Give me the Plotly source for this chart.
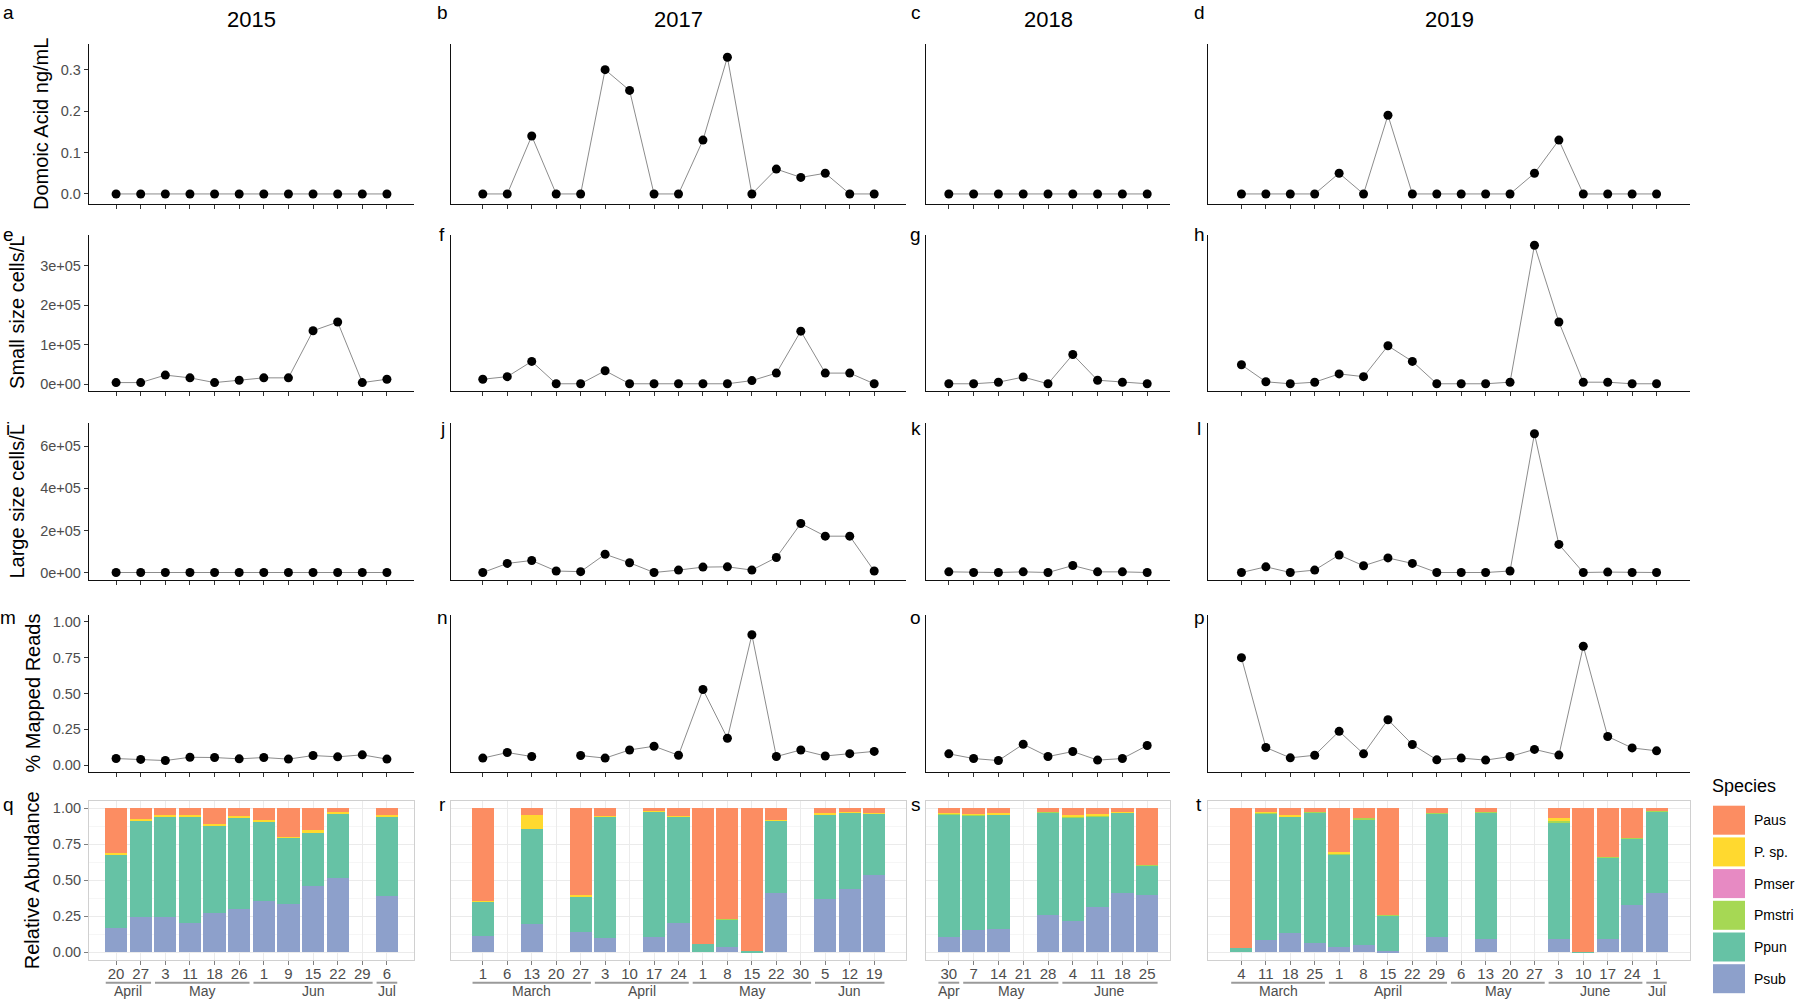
import plotly.graph_objects as go

# ---------------- sampling dates (x categories) ----------------
dates_2015 = ["2015-04-20", "2015-04-27", "2015-05-03", "2015-05-11", "2015-05-18", "2015-05-26",
              "2015-06-01", "2015-06-09", "2015-06-15", "2015-06-22", "2015-06-29", "2015-07-06"]
dates_2017 = ["2017-03-01", "2017-03-06", "2017-03-13", "2017-03-20", "2017-03-27",
              "2017-04-03", "2017-04-10", "2017-04-17", "2017-04-24",
              "2017-05-01", "2017-05-08", "2017-05-15", "2017-05-22", "2017-05-30",
              "2017-06-05", "2017-06-12", "2017-06-19"]
dates_2018 = ["2018-04-30", "2018-05-07", "2018-05-14", "2018-05-21", "2018-05-28",
              "2018-06-04", "2018-06-11", "2018-06-18", "2018-06-25"]
dates_2019 = ["2019-03-04", "2019-03-11", "2019-03-18", "2019-03-25",
              "2019-04-01", "2019-04-08", "2019-04-15", "2019-04-22", "2019-04-29",
              "2019-05-06", "2019-05-13", "2019-05-20", "2019-05-27",
              "2019-06-03", "2019-06-10", "2019-06-17", "2019-06-24", "2019-07-01"]

# month group labels, one per month present
months_2015 = ["April", "May", "Jun", "Jul"]
months_2017 = ["March", "April", "May", "Jun"]
months_2018 = ["Apr", "May", "June"]
months_2019 = ["March", "April", "May", "June", "Jul"]

# ---------------- Domoic acid (ng/mL) ----------------
da_2015 = [0, 0, 0, 0, 0, 0, 0, 0, 0, 0, 0, 0]
da_2017 = [0, 0, 0.14, 0, 0, 0.30, 0.25, 0, 0, 0.13, 0.33, 0, 0.06, 0.04, 0.05, 0, 0]
da_2018 = [0, 0, 0, 0, 0, 0, 0, 0, 0]
da_2019 = [0, 0, 0, 0, 0.05, 0, 0.19, 0, 0, 0, 0, 0, 0.05, 0.13, 0, 0, 0, 0]

# ---------------- Small size cells/L ----------------
small_2015 = [4000, 4000, 23000, 16000, 4000, 10000, 16000, 16000, 135000, 157000, 4000, 12500]
small_2017 = [12500, 19000, 57500, 1000, 1000, 34000, 1000, 1000, 1000, 1000, 1000, 9000,
              28000, 134000, 28000, 28000, 1000]
small_2018 = [1000, 1000, 5000, 18000, 1000, 75000, 10000, 5000, 1000]
small_2019 = [49000, 6000, 1000, 5000, 26000, 19000, 97000, 57500, 1000, 1000, 1000, 5000,
              351000, 157000, 5000, 5000, 1000, 1000]

# ---------------- Large size cells/L ----------------
large_2015 = [1000, 1000, 1000, 1000, 1000, 1000, 1000, 1000, 1000, 1000, 1000, 1000]
large_2017 = [1000, 44000, 58000, 8000, 5000, 87500, 47000, 1000, 12500, 26500, 28000, 12500,
              72000, 233000, 173000, 173000, 8000]
large_2018 = [4000, 1000, 1000, 4000, 1000, 34000, 4000, 4000, 1000]
large_2019 = [1000, 28000, 1000, 12500, 84000, 33000, 70000, 44000, 1000, 1000, 1000, 8000,
              658000, 134000, 1000, 3000, 1000, 1000]

# ---------------- % Mapped reads ----------------
mapped_2015 = [0.046, 0.040, 0.032, 0.055, 0.053, 0.044, 0.053, 0.042, 0.067, 0.058, 0.072, 0.042]
mapped_2017 = [0.049, 0.088, 0.060, None, 0.067, 0.049, 0.106, 0.132, 0.069, 0.528, 0.188, 0.91,
               0.060, 0.106, 0.064, 0.080, 0.096]
mapped_2018 = [0.079, 0.046, 0.032, 0.146, 0.060, 0.095, 0.035, 0.046, 0.137]
mapped_2019 = [0.75, 0.123, 0.051, 0.069, 0.236, 0.079, 0.317, 0.144, 0.037, 0.049, 0.035, 0.060,
               0.11, 0.07, 0.83, 0.20, 0.12, 0.10]

# ---------------- Relative abundance per species ----------------
paus_2015 = [0.31, 0.074, 0.046, 0.046, 0.11, 0.055, 0.08, 0.20, 0.15, 0.023, None, 0.05]
psp_2015 = [0.01, 0.01, 0.01, 0.01, 0.016, 0.01, 0.01, 0.005, 0.02, 0.014, None, 0.005]
pmser_2015 = [0, 0, 0, 0, 0, 0, 0, 0, 0, 0, None, 0]
pmstri_2015 = [0, 0, 0, 0, 0, 0, 0, 0, 0, 0, None, 0]
ppun_2015 = [0.51, 0.67, 0.70, 0.74, 0.60, 0.635, 0.555, 0.46, 0.37, 0.45, None, 0.553]
psub_2015 = [0.17, 0.246, 0.244, 0.204, 0.274, 0.30, 0.355, 0.335, 0.46, 0.513, None, 0.392]

paus_2017 = [0.643, None, 0.044, None, 0.60, 0.053, None, 0.02, 0.055, 0.944, 0.77, 0.99, 0.08,
             None, 0.032, 0.023, 0.03]
psp_2017 = [0.005, None, 0.10, None, 0.01, 0.005, None, 0.005, 0.005, 0, 0, 0, 0.005,
            None, 0.01, 0.005, 0.005]
pmser_2017 = [0, None, 0, None, 0, 0, None, 0, 0, 0, 0, 0, 0, None, 0, 0, 0]
pmstri_2017 = [0, None, 0, None, 0, 0, None, 0, 0, 0, 0.005, 0, 0, None, 0, 0, 0]
ppun_2017 = [0.24, None, 0.657, None, 0.248, 0.845, None, 0.866, 0.736, 0.056, 0.19, 0.01, 0.50,
             None, 0.59, 0.532, 0.43]
psub_2017 = [0.112, None, 0.199, None, 0.142, 0.097, None, 0.109, 0.204, 0, 0.035, 0, 0.415,
             None, 0.368, 0.44, 0.535]

paus_2018 = [0.032, 0.04, 0.032, None, 0.023, 0.05, 0.04, 0.023, 0.394]
psp_2018 = [0.005, 0.005, 0.01, None, 0, 0.01, 0.01, 0.005, 0]
pmser_2018 = [0, 0, 0, None, 0, 0, 0, 0, 0]
pmstri_2018 = [0.005, 0.005, 0.005, None, 0.01, 0.005, 0.005, 0.005, 0.005]
ppun_2018 = [0.852, 0.797, 0.791, None, 0.71, 0.72, 0.628, 0.557, 0.203]
psub_2018 = [0.106, 0.153, 0.162, None, 0.257, 0.215, 0.317, 0.41, 0.398]

paus_2019 = [0.972, 0.028, 0.044, 0.028, 0.306, 0.07, 0.74, None, 0.032, None, 0.028, None, None,
             0.07, 0.995, 0.336, 0.204, 0.016]
psp_2019 = [0, 0.005, 0.012, 0, 0.009, 0, 0, None, 0, None, 0, None, None,
            0.018, 0, 0, 0, 0]
pmser_2019 = [0, 0, 0, 0, 0, 0, 0, None, 0, None, 0, None, None, 0, 0, 0, 0, 0]
pmstri_2019 = [0, 0.005, 0, 0.005, 0.009, 0.005, 0.005, None, 0.005, None, 0.005, None, None,
               0.014, 0, 0.005, 0.005, 0.005]
ppun_2019 = [0.028, 0.876, 0.812, 0.904, 0.639, 0.874, 0.245, None, 0.857, None, 0.874, None, None,
             0.805, 0.005, 0.566, 0.462, 0.569]
psub_2019 = [0, 0.086, 0.132, 0.063, 0.037, 0.051, 0.01, None, 0.106, None, 0.093, None, None,
             0.093, 0, 0.093, 0.329, 0.41]

# y axis ticks per row
ticks_da = [0, 0.1, 0.2, 0.3]
labels_da = ["0.0", "0.1", "0.2", "0.3"]
ticks_small = [0, 100000, 200000, 300000]
labels_small = ["0e+00", "1e+05", "2e+05", "3e+05"]
ticks_large = [0, 200000, 400000, 600000]
labels_large = ["0e+00", "2e+05", "4e+05", "6e+05"]
ticks_frac = [0, 0.25, 0.5, 0.75, 1.0]
labels_frac = ["0.00", "0.25", "0.50", "0.75", "1.00"]

years = ["2015", "2017", "2018", "2019"]
species_names = ["Paus", "P. sp.", "Pmser", "Pmstri", "Ppun", "Psub"]   # legend order
species_colors = ["#FC8D62", "#FFD92F", "#E78AC3", "#A6D854", "#66C2A5", "#8DA0CB"]

# ---------------- assemble ----------------
all_dates = [dates_2015, dates_2017, dates_2018, dates_2019]
all_months = [months_2015, months_2017, months_2018, months_2019]
row_series = [
    [da_2015, da_2017, da_2018, da_2019],
    [small_2015, small_2017, small_2018, small_2019],
    [large_2015, large_2017, large_2018, large_2019],
    [mapped_2015, mapped_2017, mapped_2018, mapped_2019],
]
abundance = [
    [paus_2015, psp_2015, pmser_2015, pmstri_2015, ppun_2015, psub_2015],
    [paus_2017, psp_2017, pmser_2017, pmstri_2017, ppun_2017, psub_2017],
    [paus_2018, psp_2018, pmser_2018, pmstri_2018, ppun_2018, psub_2018],
    [paus_2019, psp_2019, pmser_2019, pmstri_2019, ppun_2019, psub_2019],
]
row_ticks = [(ticks_da, labels_da), (ticks_small, labels_small), (ticks_large, labels_large),
             (ticks_frac, labels_frac), (ticks_frac, labels_frac)]
row_ranges = [[-0.025, 0.363], [-18000, 378000], [-34000, 708000], [-0.05, 1.05], [-0.05, 1.05]]
row_titles = ["Domoic Acid ng/mL", "Small size cells/L", "Large size cells/L",
              "% Mapped Reads", "Relative Abundance"]

# ---------------- layout geometry (pixels) ----------------
FIG_W, FIG_H = 1800, 1003
col_px = [(89, 414), (451, 906), (926, 1170), (1208, 1690)]
row_px = [(43.6, 204.3), (234.6, 391.3), (423.2, 579.9), (614.7, 772.3), (801.0, 959.5)]
col_pad = [1.1, 1.3, 0.92, 1.37]
title_x_px = [41, 17, 17, 32, 32]
letter_x_px = [8, 442, 916, 1199]
letter_y_px = [12, 235, 428, 617, 804]

FONT = "Liberation Sans, Arial, sans-serif"
TICK_GREY = "#4D4D4D"


def fx(p):
    return p / FIG_W


def fy(p):
    return 1 - p / FIG_H


fig = go.Figure()
layout = {}
annotations = []
shapes = []

for r in range(5):
    for c in range(4):
        k = r * 4 + c + 1
        sfx = "" if k == 1 else str(k)
        xref, yref = "x" + sfx, "y" + sfx
        dates = all_dates[c]
        n = len(dates)
        days = [str(int(d[8:])) for d in dates]
        bottom = r == 4

        xa = dict(
            domain=[fx(col_px[c][0]), fx(col_px[c][1])], anchor=yref,
            type="category", categoryorder="array", categoryarray=dates,
            range=[-col_pad[c], n - 1 + col_pad[c]],
            tickmode="array", tickvals=dates, ticktext=days,
            showticklabels=bottom, ticks="outside", ticklen=4, tickwidth=1,
            tickfont=dict(size=15, color=TICK_GREY, family=FONT),
            zeroline=False, fixedrange=True,
        )
        ticks, labels = row_ticks[r]
        ya = dict(
            domain=[fy(row_px[r][1]), fy(row_px[r][0])], anchor=xref,
            range=row_ranges[r], tickmode="array", tickvals=ticks, ticktext=labels,
            showticklabels=(c == 0), ticks="outside" if c == 0 else "",
            ticklen=4, tickwidth=1,
            tickfont=dict(size=14.5, color=TICK_GREY, family=FONT),
            zeroline=False, fixedrange=True,
        )
        if bottom:
            xa.update(showline=True, mirror=True, linecolor="#D0D0D0", linewidth=1,
                      showgrid=True, gridcolor="#EBEBEB", gridwidth=1, tickcolor="#808080",
                      ticklabelstandoff=-4)
            ya.update(showline=True, mirror=True, linecolor="#D0D0D0", linewidth=1,
                      showgrid=True, gridcolor="#EBEBEB", gridwidth=1, tickcolor="#808080",
                      minor=dict(tickvals=[0.125, 0.375, 0.625, 0.875], showgrid=True,
                                 gridcolor="#F6F6F6", gridwidth=1, ticks=""))
        else:
            xa.update(showline=True, linecolor="#111111", linewidth=1.3,
                      showgrid=False, tickcolor="#333333")
            ya.update(showline=True, linecolor="#111111", linewidth=1.3,
                      showgrid=False, tickcolor="#333333")
        layout["xaxis" + sfx] = xa
        layout["yaxis" + sfx] = ya

        if not bottom:
            fig.add_trace(go.Scatter(
                x=dates, y=row_series[r][c], xaxis=xref, yaxis=yref,
                mode="lines+markers", showlegend=False, hoverinfo="skip",
                line=dict(color="#8C8C8C", width=1),
                marker=dict(color="black", size=9),
            ))
        else:
            # stack bottom to top: Psub, Ppun, Pmstri, Pmser, P. sp., Paus
            for s in reversed(range(len(species_names))):
                fig.add_trace(go.Bar(
                    x=dates, y=abundance[c][s], xaxis=xref, yaxis=yref,
                    name=species_names[s], width=0.9, showlegend=False,
                    marker=dict(color=species_colors[s], line=dict(width=0)),
                    hoverinfo="skip",
                ))
            # month groups under the day labels
            groups = []
            for i, d in enumerate(dates):
                m = d[5:7]
                if groups and groups[-1][0] == m:
                    groups[-1][2] = i
                else:
                    groups.append([m, i, i])
            for g, label in zip(groups, all_months[c]):
                shapes.append(dict(type="line", xref=xref, yref="paper",
                                   x0=g[1] - 0.42, x1=g[2] + 0.42,
                                   y0=fy(982.7), y1=fy(982.7),
                                   line=dict(color="#9A9A9A", width=2)))
                annotations.append(dict(xref=xref, yref="paper", x=(g[1] + g[2]) / 2,
                                        y=fy(991), text=label, showarrow=False,
                                        xanchor="center", yanchor="middle",
                                        font=dict(size=14, color=TICK_GREY, family=FONT)))

        # panel letter
        annotations.append(dict(xref="paper", yref="paper", x=fx(letter_x_px[c]),
                                y=fy(letter_y_px[r]), text="abcdefghijklmnopqrst"[k - 1],
                                showarrow=False, xanchor="center", yanchor="middle",
                                font=dict(size=19, color="black", family=FONT)))

# column titles
for c, yr in enumerate(years):
    annotations.append(dict(xref="paper", yref="paper",
                            x=fx((col_px[c][0] + col_px[c][1]) / 2), y=fy(19.5),
                            text=yr, showarrow=False, xanchor="center", yanchor="middle",
                            font=dict(size=22, color="black", family=FONT)))

# row (y axis) titles
for r, t in enumerate(row_titles):
    annotations.append(dict(xref="paper", yref="paper", x=fx(title_x_px[r]),
                            y=fy((row_px[r][0] + row_px[r][1]) / 2), text=t,
                            textangle=-90, showarrow=False, xanchor="center", yanchor="middle",
                            font=dict(size=20, color="black", family=FONT)))

# legend drawn by hand (ggplot-like square keys)
annotations.append(dict(xref="paper", yref="paper", x=fx(1710), y=fy(786), text="Species",
                        showarrow=False, xanchor="left", yanchor="middle",
                        font=dict(size=18, color="black", family=FONT)))
for i, (name, col) in enumerate(zip(species_names, species_colors)):
    top = 805.7 + i * 31.7
    shapes.append(dict(type="rect", xref="paper", yref="paper",
                       x0=fx(1713), x1=fx(1745), y0=fy(top + 29), y1=fy(top),
                       fillcolor=col, line=dict(width=0)))
    annotations.append(dict(xref="paper", yref="paper", x=fx(1752), y=fy(top + 14.5),
                            text=name, showarrow=False, xanchor="left", yanchor="middle",
                            font=dict(size=14, color="black", family=FONT)))

fig.update_layout(
    **layout,
    template="none",
    width=FIG_W, height=FIG_H,
    margin=dict(l=0, r=0, t=0, b=0),
    paper_bgcolor="white", plot_bgcolor="white",
    barmode="stack",
    showlegend=False,
    hovermode=False,
    font=dict(family=FONT),
    annotations=annotations,
    shapes=shapes,
)

# strip the default page margin so the 1800x1003 figure fills the window exactly
fig.write_html("out.html", config={"displayModeBar": False},
               post_script="document.body.style.margin='0';document.body.style.overflow='hidden';")
